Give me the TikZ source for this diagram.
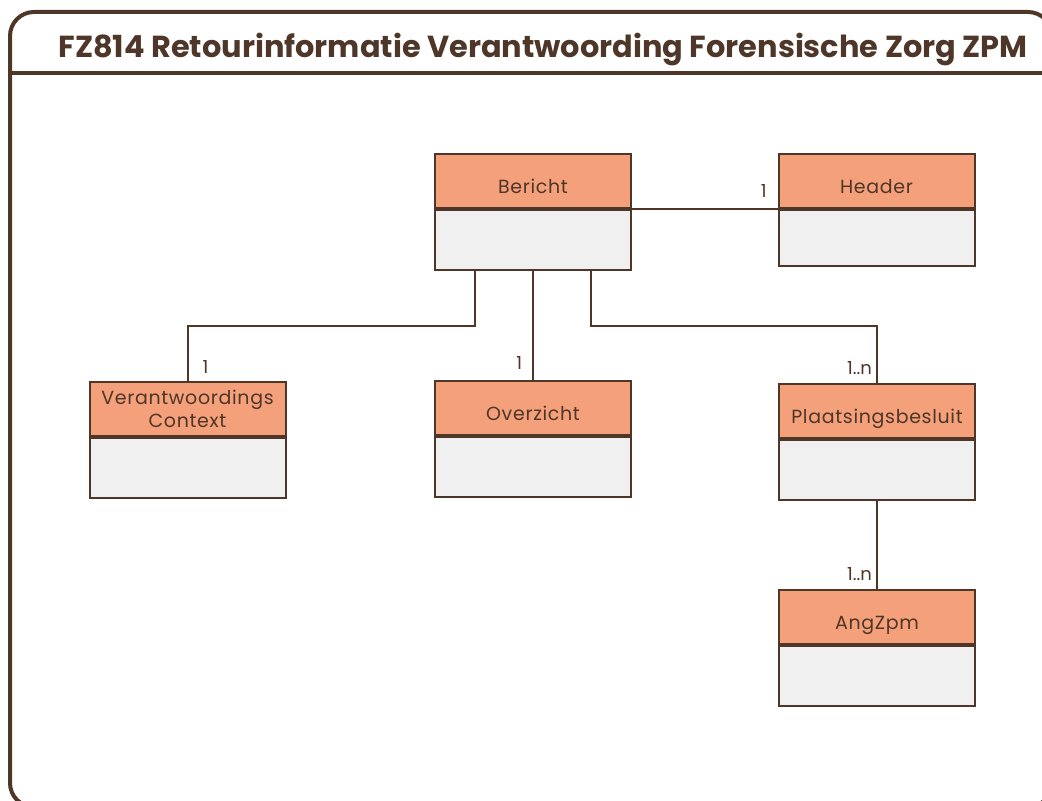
\documentclass[tikz,border=0pt]{standalone}
\usepackage{fontspec}
\setmainfont{Poppins}
\usetikzlibrary{positioning}
\definecolor{bruin}{HTML}{4E3629}
\definecolor{zalm}{HTML}{F4A07A}
\definecolor{grijs}{HTML}{F0F0F0}

\begin{document}
\begin{tikzpicture}[x=0.5pt, y=-0.5pt,
    kop/.style={draw=bruin, fill=zalm, line width=1pt, minimum width=98pt, minimum height=27pt,
        inner sep=0pt, align=center, text=bruin, text height=12.5pt, text depth=0pt,
        font=\fontsize{9.5}{11.5}\selectfont\addfontfeatures{LetterSpace=3.5}},
    romp/.style={draw=bruin, fill=grijs, line width=1pt, minimum width=98pt, minimum height=30pt,
        below=0pt of #1},
    lijn/.style={draw=bruin, line width=1pt},
    mult/.style={text=bruin, inner xsep=2pt, inner ysep=3.5pt, font=\fontsize{9}{11}\selectfont}]
    \useasboundingbox (0,0) rectangle (1042,801);
    \clip (0,0) rectangle (1042,801);

    % Kader met titel
    \draw[bruin, line width=2pt, rounded corners=12pt] (10,12) rectangle (1052,807);
    \draw[bruin, line width=2pt] (10,73) -- (1052,73);
    \node[text=bruin, font=\fontsize{15.2}{18}\selectfont\bfseries] (titel) at (543,50)
        {FZ814 Retourinformatie Verantwoording Forensische Zorg ZPM};

    % Klassen
    \node[kop] (bericht) at (533,181.5) {Bericht};
    \node[romp=bericht] (berichtb) {};
    \node[kop] (header) at (876.5,181.5) {Header};
    \node[romp=header, minimum height=28pt] (headerb) {};
    \node[kop, text height=, text depth=] (context) at (187.5,409) {Verantwoordings\\Context};
    \node[romp=context] (contextb) {};
    \node[kop] (overzicht) at (533,408) {Overzicht};
    \node[romp=overzicht] (overzichtb) {};
    \node[kop] (plaatsing) at (877,411) {Plaatsingsbesluit};
    \node[romp=plaatsing] (plaatsingb) {};
    \node[kop] (angzpm) at (877,616.5) {AngZpm};
    \node[romp=angzpm] (angzpmb) {};

    % Verbindingen
    \draw[lijn] (bericht.south east) -- (header.south west) node[mult, above left, xshift=-3pt, yshift=2pt] {1};
    \draw[lijn] ([xshift=-29pt]berichtb.south) -- ++(0,55) -| (context.north) node[mult, above right, xshift=5pt] {1};
    \draw[lijn] (berichtb.south) -- (overzicht.north) node[mult, above left, xshift=-3pt, yshift=1pt] {1};
    \draw[lijn] ([xshift=29pt]berichtb.south) -- ++(0,55) -| (plaatsing.north) node[mult, above left] {1..n};
    \draw[lijn] (plaatsingb.south) -- (angzpm.north) node[mult, above left] {1..n};
\end{tikzpicture}
\end{document}
